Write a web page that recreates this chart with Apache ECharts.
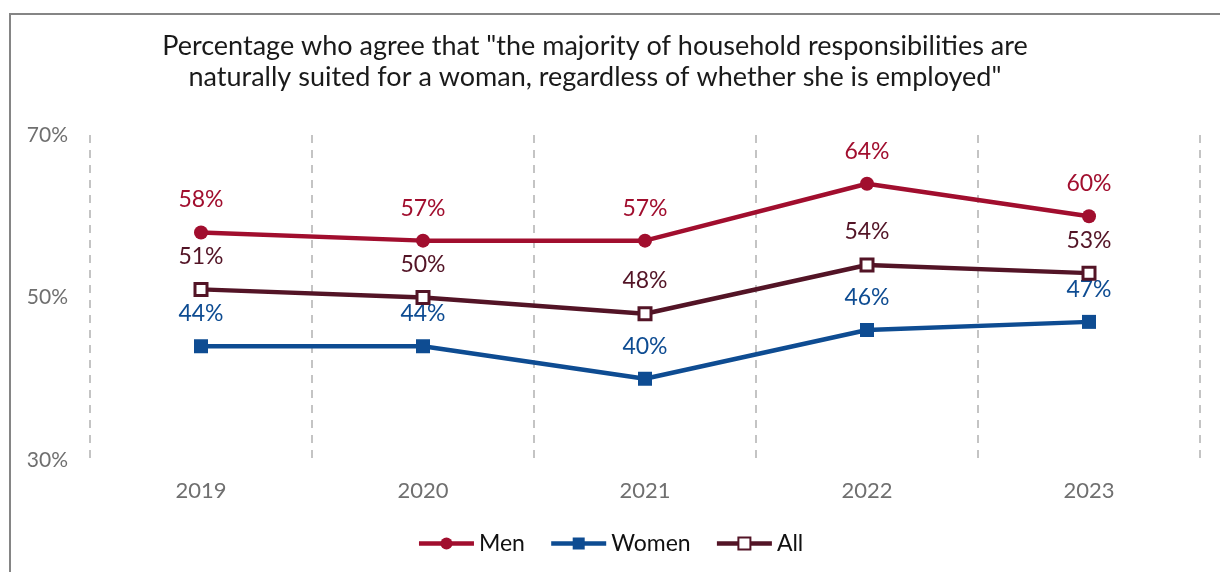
<!DOCTYPE html>
<html>
<head>
<meta charset="utf-8">
<script src="https://cdn.jsdelivr.net/npm/echarts@6/dist/echarts.min.js"></script>
<style>
  html, body { margin: 0; padding: 0; background: #fff; }
  #chart { width: 1220px; height: 572px; }
</style>
</head>
<body>
<div id="chart"></div>
<script>
// Survey years and agreement shares (%)
const years = ['2019', '2020', '2021', '2022', '2023'];
const men = [58, 57, 57, 64, 60];
const women = [44, 44, 40, 46, 47];
const all = [51, 50, 48, 54, 53];
const yTicks = [30, 50, 70];

const FONT = 'Lato, "Open Sans", sans-serif';
const RED = '#A10E2E';
const BLUE = '#0E4C92';
const MAROON = '#531426';

function labelStyle(color) {
  return {
    show: true,
    position: 'top',
    distance: 14,
    color: color,
    fontFamily: FONT,
    fontSize: 23,
    formatter: p => p.value + '%'
  };
}

const chart = echarts.init(document.getElementById('chart'));
chart.setOption({
  animation: false,
  backgroundColor: '#fff',
  title: {
    text: 'Percentage who agree that "the majority of household responsibilities are\nnaturally suited for a woman, regardless of whether she is employed"',
    left: 590,
    top: 26,
    textAlign: 'center',
    textStyle: {
      fontFamily: FONT,
      fontSize: 27,
      fontWeight: 'normal',
      color: '#1a1a1a',
      lineHeight: 31
    }
  },
  graphic: [{
    type: 'polyline',
    shape: { points: [[10, 580], [10, 14], [1230, 14]] },
    style: { stroke: '#858585', lineWidth: 2, fill: null },
    silent: true
  }],
  legend: {
    bottom: 12,
    left: 'center',
    itemWidth: 55,
    itemHeight: 15,
    itemGap: 24,
    lineStyle: { width: 4.5 },
    textStyle: { fontFamily: FONT, fontSize: 23, color: '#111' },
    data: ['Men', 'Women', 'All']
  },
  grid: { left: 90, right: 20, top: 135, bottom: 112, containLabel: false },
  xAxis: {
    type: 'category',
    data: years,
    boundaryGap: true,
    axisLine: { show: false },
    axisTick: { show: false },
    axisLabel: { color: '#6f6f6f', fontFamily: FONT, fontSize: 22, margin: 20 },
    splitLine: {
      show: true,
      lineStyle: { color: '#c4c4c4', width: 2, type: [8, 7] }
    }
  },
  yAxis: {
    type: 'value',
    min: yTicks[0],
    max: yTicks[yTicks.length - 1],
    interval: yTicks[1] - yTicks[0],
    axisLine: { show: false },
    axisTick: { show: false },
    splitLine: { show: false },
    axisLabel: {
      color: '#6f6f6f', fontFamily: FONT, fontSize: 21, margin: 22,
      formatter: '{value}%'
    }
  },
  series: [
    {
      name: 'Men', type: 'line', data: men,
      symbol: 'circle', symbolSize: 14,
      lineStyle: { color: RED, width: 4.5 },
      itemStyle: { color: RED },
      label: labelStyle(RED), z: 3
    },
    {
      name: 'Women', type: 'line', data: women,
      symbol: 'rect', symbolSize: 14,
      lineStyle: { color: BLUE, width: 4.5 },
      itemStyle: { color: BLUE },
      label: labelStyle(BLUE), z: 2
    },
    {
      name: 'All', type: 'line', data: all,
      symbol: 'rect', symbolSize: 12,
      lineStyle: { color: MAROON, width: 4.5 },
      itemStyle: { color: '#fff', borderColor: MAROON, borderWidth: 3 },
      label: labelStyle(MAROON), z: 4
    }
  ]
});
</script>
</body>
</html>
